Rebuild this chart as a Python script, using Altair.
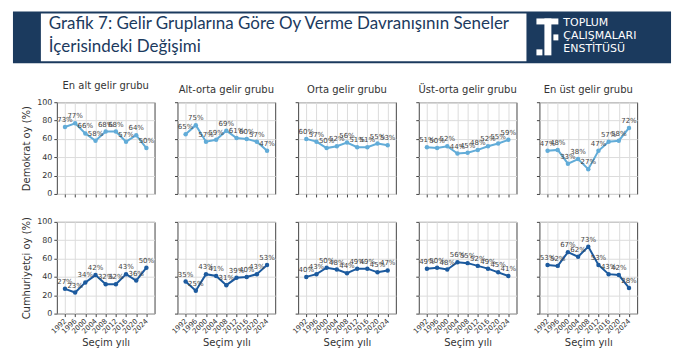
import altair as alt
import pandas as pd

years = [1992, 1996, 2000, 2004, 2008, 2012, 2016, 2020, 2024]
groups = ["En alt gelir grubu", "Alt-orta gelir grubu", "Orta gelir grubu",
          "Üst-orta gelir grubu", "En üst gelir grubu"]

dem_en_alt = [73, 77, 66, 58, 68, 68, 57, 64, 50]
dem_alt_orta = [65, 75, 57, 59, 69, 61, 60, 57, 47]
dem_orta = [60, 57, 50, 52, 56, 51, 51, 55, 53]
dem_ust_orta = [51, 50, 52, 44, 45, 48, 52, 55, 59]
dem_en_ust = [47, 48, 33, 38, 27, 47, 57, 58, 72]

rep_en_alt = [27, 23, 34, 42, 32, 32, 43, 36, 50]
rep_alt_orta = [35, 25, 43, 41, 31, 39, 40, 43, 53]
rep_orta = [40, 43, 50, 48, 44, 49, 49, 45, 47]
rep_ust_orta = [49, 50, 48, 56, 55, 52, 49, 45, 41]
rep_en_ust = [53, 52, 67, 62, 73, 53, 43, 42, 28]

dem_series = [dem_en_alt, dem_alt_orta, dem_orta, dem_ust_orta, dem_en_ust]
rep_series = [rep_en_alt, rep_alt_orta, rep_orta, rep_ust_orta, rep_en_ust]

title_line1 = "Grafik 7: Gelir Gruplarına Göre Oy Verme Davranışının Seneler"
title_line2 = "İçerisindeki Değişimi"
logo_lines = ["TOPLUM", "ÇALIŞMALARI", "ENSTİTÜSÜ"]

DEM_COLOR = "#62acd8"
REP_COLOR = "#1c5a9e"
NAVY = "#1b3a5e"
FONT = "DejaVu Sans"

PW, PH = 98, 92

one = alt.Data(values=[{"k": 1}])


def header_layers(oy):
    # header band drawn relative to the bottom-left panel's plot origin (oy = its top)
    band = alt.Chart(one).mark_rect(color=NAVY).encode(
        x=alt.value(-44), x2=alt.value(616), y=alt.value(10 - oy), y2=alt.value(62 - oy))
    white = alt.Chart(one).mark_rect(color="white").encode(
        x=alt.value(-16), x2=alt.value(471), y=alt.value(12 - oy), y2=alt.value(60 - oy))
    t1 = alt.Chart(one).mark_text(align="left", baseline="middle", fontSize=17, font="Lato",
                                  color="#1b3a5e").encode(
        x=alt.value(-8), y=alt.value(23 - oy), text=alt.value(title_line1))
    t2 = alt.Chart(one).mark_text(align="left", baseline="middle", fontSize=17, font="Lato",
                                  color="#1b3a5e").encode(
        x=alt.value(-8), y=alt.value(46 - oy), text=alt.value(title_line2))
    LX = 481
    TY = 17 - oy
    logo_bar = alt.Chart(one).mark_rect(color="white").encode(
        x=alt.value(LX), x2=alt.value(LX + 22), y=alt.value(TY), y2=alt.value(TY + 6))
    logo_stem = alt.Chart(one).mark_rect(color="white").encode(
        x=alt.value(LX + 8), x2=alt.value(LX + 15), y=alt.value(TY), y2=alt.value(TY + 37))
    logo_sq1 = alt.Chart(one).mark_rect(color="white").encode(
        x=alt.value(LX), x2=alt.value(LX + 6), y=alt.value(TY + 31), y2=alt.value(TY + 37))
    logo_sq2 = alt.Chart(one).mark_rect(color="white").encode(
        x=alt.value(LX + 17), x2=alt.value(LX + 22), y=alt.value(TY + 16), y2=alt.value(TY + 22))
    logo_txt = [alt.Chart(one).mark_text(align="left", baseline="middle", fontSize=11,
                                         fontWeight="normal", font=FONT, color="white").encode(
        x=alt.value(LX + 27), y=alt.value(TY + 5 + 13 * i), text=alt.value(s))
        for i, s in enumerate(logo_lines)]
    return [band, white, t1, t2, logo_bar, logo_stem, logo_sq1, logo_sq2] + logo_txt


def panel(values, color, first, bottom, title, ytitle, extra=None):
    df = pd.DataFrame({
        "year": years,
        "value": values,
        "label": [f"{v}%" for v in values],
    })
    xaxis_kwargs = dict(values=years, format="d", labelAngle=-45, labels=bottom,
                        labelOverlap=False, labelAlign="right", labelBaseline="middle",
                        labelPadding=3,
                        tickColor="#444", tickSize=3, labelFontSize=7,
                        labelColor="#333", gridColor="#dcdcdc", domain=False)
    if bottom:
        xaxis_kwargs["title"] = "Seçim yılı"
        xaxis_kwargs["titleFontSize"] = 10
        xaxis_kwargs["titleFontWeight"] = "normal"
        xaxis_kwargs["titleColor"] = "#333"
        xaxis_kwargs["titlePadding"] = 3
    else:
        xaxis_kwargs["title"] = None
    yaxis_kwargs = dict(values=[0, 20, 40, 60, 80, 100], labels=first,
                        tickColor="#444", tickSize=3, labelFontSize=8,
                        labelColor="#333", gridColor="#dcdcdc", domain=False)
    if first:
        yaxis_kwargs["title"] = ytitle
        yaxis_kwargs["titleFontSize"] = 10
        yaxis_kwargs["titleFontWeight"] = "normal"
        yaxis_kwargs["titleColor"] = "#333"
        yaxis_kwargs["titlePadding"] = 5
    else:
        yaxis_kwargs["title"] = None
    base = alt.Chart(df).encode(
        x=alt.X("year:Q", scale=alt.Scale(domain=[1988.8, 2027.2], nice=False, zero=False),
                axis=alt.Axis(**xaxis_kwargs)),
        y=alt.Y("value:Q", scale=alt.Scale(domain=[0, 100], nice=False),
                axis=alt.Axis(**yaxis_kwargs)),
    )
    line = base.mark_line(color=color, strokeWidth=2)
    pts = base.mark_point(filled=True, size=20, color=color, opacity=1)
    txt = base.mark_text(dy=-7, fontSize=7, color="#444", font=FONT).encode(text="label:N")
    layers = [line, pts, txt]
    if extra:
        layers = extra + layers
    props = dict(width=PW, height=PH)
    if title:
        props["title"] = alt.TitleParams(title, fontSize=10, fontWeight="normal", color="#333",
                                         font=FONT, anchor="middle", frame="group", offset=7)
    return alt.layer(*layers).properties(**props)


TOP_Y = 101
BOT_Y = TOP_Y + PH + 28

panels = []
for i in range(5):
    panels.append(panel(dem_series[i], DEM_COLOR, i == 0, False, groups[i], "Demokrat oy (%)"))
for i in range(5):
    panels.append(panel(rep_series[i], REP_COLOR, i == 0, True, None, "Cumhuriyetçi oy (%)",
                        extra=header_layers(BOT_Y) if i == 0 else None))

chart = alt.concat(*panels, columns=5, spacing={"row": 28, "column": 23}, bounds="flush").properties(
    padding={"left": 12, "top": 10, "right": 11, "bottom": 2},
    background="white",
).configure(font=FONT).configure_view(stroke="#444", strokeWidth=1)

chart.save("out.html", embed_options={"renderer": "svg", "actions": False})
